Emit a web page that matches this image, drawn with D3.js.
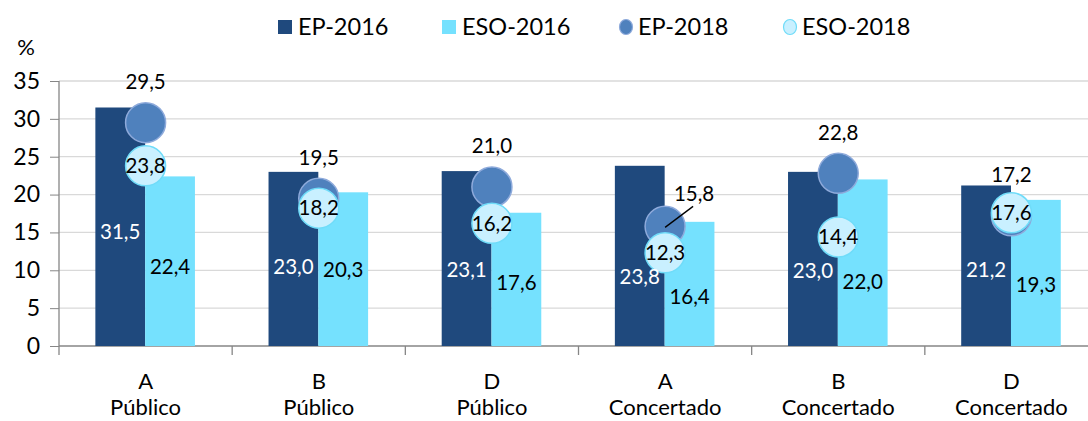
<!DOCTYPE html>
<html><head><meta charset="utf-8">
<script src="https://cdn.jsdelivr.net/npm/d3@7"></script>
<style>body{margin:0;background:#fff}svg{display:block}text{font-family:Lato,"Open Sans",sans-serif}</style>
</head><body><svg id="c" width="1088" height="421"></svg>
<script>
const categories = [["A","Público"],["B","Público"],["D","Público"],["A","Concertado"],["B","Concertado"],["D","Concertado"]];
const ep2016 = [31.5, 23.0, 23.1, 23.8, 23.0, 21.2];
const eso2016 = [22.4, 20.3, 17.6, 16.4, 22.0, 19.3];
const ep2018 = [29.5, 19.5, 21.0, 15.8, 22.8, 17.2];
const eso2018 = [23.8, 18.2, 16.2, 12.3, 14.4, 17.6];
const yTicks = [0,5,10,15,20,25,30,35];
const legendNames = ["EP-2016","ESO-2016","EP-2018","ESO-2018"];
// label anchor heights (data units) for bar labels, as placed in the original
const epLabelAt = [15.1, 10.4, 10.0, 9.2, 9.9, 10.0];
const esoLabelAt = [10.4, 10.0, 8.3, 6.5, 8.5, 8.1];

const C = {ep16:"#1f497d", eso16:"#75e1fe", ep18:"#4f81bd", ep18s:"#8eaadb", eso18:"#c9f0ff", eso18s:"#6fdcf9"};
const svg = d3.select("#c");
const idx = d3.range(categories.length);
const x0 = d3.scaleBand().domain(idx).range([59, 1098]).padding(0);
const bw = x0.bandwidth();
const x1 = d3.scaleBand().domain(["ep","eso"]).range([bw*0.21, bw*0.785]);
const y = d3.scaleLinear().domain([0,35]).range([346, 81]);
const fmt = v => d3.format(".1f")(v).replace(".",",");
const LF = 20.5;

// gridlines
svg.append("g").selectAll("line").data(yTicks.filter(d=>d>0)).join("line")
  .attr("x1",59).attr("x2",1088).attr("y1",d=>y(d)).attr("y2",d=>y(d))
  .attr("stroke","#d9d9d9").attr("stroke-width",1.3);

// y axis
const ya = svg.append("g").attr("transform","translate(59,0)")
  .call(d3.axisLeft(y).tickValues(yTicks).tickSize(9).tickPadding(10));
ya.select(".domain").remove();
ya.selectAll(".tick line").attr("stroke","#868686");
ya.selectAll(".tick text").attr("font-size",23).attr("fill","#000").attr("font-family","Lato");
svg.append("line").attr("x1",59).attr("x2",59).attr("y1",y(35)).attr("y2",355).attr("stroke","#868686").attr("stroke-width",1.3);
svg.append("text").attr("x",26).attr("y",55).attr("font-size",22).attr("text-anchor","middle").text("%");

// x axis
svg.append("line").attr("x1",59).attr("x2",1088).attr("y1",y(0)).attr("y2",y(0)).attr("stroke","#868686").attr("stroke-width",1.3);
svg.append("g").selectAll("line").data(idx.slice(1)).join("line")
  .attr("x1",d=>x0(d)).attr("x2",d=>x0(d)).attr("y1",y(0)).attr("y2",355).attr("stroke","#868686").attr("stroke-width",1.3);
const xl = svg.append("g").selectAll("text").data(idx).join("text")
  .attr("x",d=>x0(d)+bw/2).attr("text-anchor","middle").attr("font-size",22);
xl.append("tspan").attr("x",d=>x0(d)+bw/2).attr("y",389).text(d=>categories[d][0]);
xl.append("tspan").attr("x",d=>x0(d)+bw/2).attr("y",415).text(d=>categories[d][1]);

// bars
const g = svg.append("g");
g.selectAll(".b1").data(idx).join("rect").attr("x",d=>x0(d)+x1("ep")).attr("width",x1.bandwidth())
  .attr("y",d=>y(ep2016[d])).attr("height",d=>y(0)-y(ep2016[d])).attr("fill",C.ep16);
g.selectAll(".b2").data(idx).join("rect").attr("x",d=>x0(d)+x1("eso")).attr("width",x1.bandwidth())
  .attr("y",d=>y(eso2016[d])).attr("height",d=>y(0)-y(eso2016[d])).attr("fill",C.eso16);

// circles
const cx = d => x0(d)+bw/2;
g.selectAll(".c1").data(idx).join("circle").attr("cx",cx).attr("cy",d=>y(ep2018[d])).attr("r",20)
  .attr("fill",C.ep18).attr("stroke",C.ep18s).attr("stroke-width",1.5);
g.selectAll(".c2").data(idx).join("circle").attr("cx",cx).attr("cy",d=>y(eso2018[d])).attr("r",20)
  .attr("fill",C.eso18).attr("stroke",C.eso18s).attr("stroke-width",1.5);

// bar labels
g.selectAll(".l1").data(idx).join("text").attr("x",d=>x0(d)+x1("ep")+x1.bandwidth()/2).attr("y",d=>y(epLabelAt[d]))
  .attr("dy","0.35em").attr("text-anchor","middle").attr("font-size",LF).attr("fill","#fff").text(d=>fmt(ep2016[d]));
g.selectAll(".l2").data(idx).join("text").attr("x",d=>x0(d)+x1("eso")+x1.bandwidth()/2).attr("y",d=>y(esoLabelAt[d]))
  .attr("dy","0.35em").attr("text-anchor","middle").attr("font-size",LF).attr("fill","#000").text(d=>fmt(eso2016[d]));
// circle labels
const callout = 3;
g.selectAll(".l3").data(idx).join("text")
  .attr("x",d=>d===callout? cx(d)+29 : cx(d)).attr("y",d=>d===callout? y(ep2018[d])-33 : y(ep2018[d])-41)
  .attr("dy","0.35em").attr("text-anchor","middle").attr("font-size",LF).attr("fill","#000").text(d=>fmt(ep2018[d]));
g.append("line").attr("x1",cx(callout)).attr("y1",y(ep2018[callout])+1).attr("x2",cx(callout)+28).attr("y2",y(ep2018[callout])-20)
  .attr("stroke","#000").attr("stroke-width",1.3);
g.selectAll(".l4").data(idx).join("text").attr("x",cx).attr("y",d=>y(eso2018[d]))
  .attr("dy","0.35em").attr("text-anchor","middle").attr("font-size",LF).attr("fill","#000").text(d=>fmt(eso2018[d]));

// legend
const lx = [278, 442, 626, 790];
const lg = svg.append("g");
legendNames.forEach((n,i)=>{
  if(i<2){
    lg.append("rect").attr("x",lx[i]).attr("y",20).attr("width",14).attr("height",14).attr("fill",i===0?C.ep16:C.eso16);
  } else {
    lg.append("ellipse").attr("cx",lx[i]).attr("cy",27).attr("rx",6.5).attr("ry",7.5)
      .attr("fill",i===2?C.ep18:C.eso18).attr("stroke",i===2?C.ep18s:C.eso18s).attr("stroke-width",1.2);
  }
  lg.append("text").attr("x",lx[i]+(i<2?20:12)).attr("y",27).attr("dy","0.36em").attr("font-size",23.5).text(n);
});
</script></body></html>
